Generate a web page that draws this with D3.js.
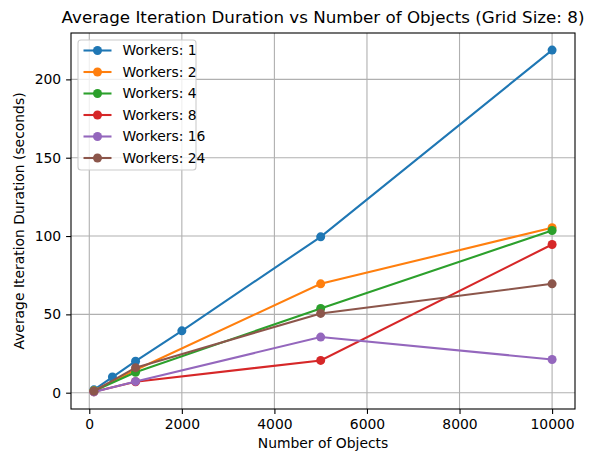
<!DOCTYPE html>
<html><head><meta charset="utf-8">
<script src="https://cdn.jsdelivr.net/npm/d3@7"></script>
<style>body{margin:0;background:#fff}svg{font-family:"DejaVu Sans",sans-serif}</style>
</head><body>
<script>
const objectsW1 = [100, 500, 1000, 2000, 5000, 10000];
const objectsOther = [100, 1000, 5000, 10000];
const workers1 = [1.8, 10.0, 20.1, 39.5, 99.5, 218.7];
const workers2 = [1.3, 14.5, 69.5, 105.3];
const workers4 = [1.1, 13.0, 53.8, 103.5];
const workers8 = [0.6, 7.0, 20.6, 94.6];
const workers16 = [0.5, 7.2, 35.5, 21.2];
const workers24 = [1.0, 16.0, 50.6, 69.5];
const seriesLabels = ["Workers: 1","Workers: 2","Workers: 4","Workers: 8","Workers: 16","Workers: 24"];
const colors = ["#1f77b4","#ff7f0e","#2ca02c","#d62728","#9467bd","#8c564b"];
const xTicks = [0,2000,4000,6000,8000,10000];
const yTicks = [0,50,100,150,200];

const series = [
  {label: seriesLabels[0], x: objectsW1, y: workers1},
  {label: seriesLabels[1], x: objectsOther, y: workers2},
  {label: seriesLabels[2], x: objectsOther, y: workers4},
  {label: seriesLabels[3], x: objectsOther, y: workers8},
  {label: seriesLabels[4], x: objectsOther, y: workers16},
  {label: seriesLabels[5], x: objectsOther, y: workers24},
].map((s,i)=>({...s, color: colors[i], pts: s.x.map((v,j)=>[v, s.y[j]])}));

const W = 597, H = 451;
const L = 71, R = 575, T = 33, B = 409;
const svg = d3.select("body").append("svg").attr("width", W).attr("height", H);

const allX = series.flatMap(s=>s.x), allY = series.flatMap(s=>s.y);
const [x0,x1] = d3.extent(allX), [y0,y1] = d3.extent(allY);
const mx = (x1-x0)*0.05, my = (y1-y0)*0.05;
const x = d3.scaleLinear().domain([x0-mx, x1+mx]).range([L, R]);
const y = d3.scaleLinear().domain([y0-my, y1+my]).range([B, T]);

// grid
const g = svg.append("g");
g.selectAll(".gx").data(xTicks).join("line")
  .attr("x1", d=>x(d)).attr("x2", d=>x(d)).attr("y1", T).attr("y2", B)
  .attr("stroke", "#b0b0b0").attr("stroke-width", 1.1);
g.selectAll(".gy").data(yTicks).join("line")
  .attr("y1", d=>y(d)).attr("y2", d=>y(d)).attr("x1", L).attr("x2", R)
  .attr("stroke", "#b0b0b0").attr("stroke-width", 1.1);

// axes
const xa = svg.append("g").attr("transform", `translate(0,${B})`)
  .call(d3.axisBottom(x).tickValues(xTicks).tickFormat(d3.format("d")).tickSize(4.9).tickPadding(4.9));
const ya = svg.append("g").attr("transform", `translate(${L},0)`)
  .call(d3.axisLeft(y).tickValues(yTicks).tickFormat(d3.format("d")).tickSize(4.9).tickPadding(4.9));
[xa, ya].forEach(a=>{
  a.select(".domain").remove();
  a.selectAll("line").attr("stroke", "#000").attr("stroke-width", 1.1);
  a.selectAll("text").attr("font-size", 13.9).attr("fill", "#000").attr("font-family", "DejaVu Sans");
});

// lines
const line = d3.line().x(d=>x(d[0])).y(d=>y(d[1]));
const sg = svg.append("g");
series.forEach(s=>{
  sg.append("path").datum(s.pts).attr("d", line).attr("fill","none")
    .attr("stroke", s.color).attr("stroke-width", 2.08);
  sg.selectAll(null).data(s.pts).join("circle")
    .attr("cx", d=>x(d[0])).attr("cy", d=>y(d[1])).attr("r", 4.5).attr("fill", s.color);
});

// frame
svg.append("rect").attr("x", L).attr("y", T).attr("width", R-L).attr("height", B-T)
  .attr("fill","none").attr("stroke","#000").attr("stroke-width",1.1);

// legend
const lg = svg.append("g");
lg.append("rect").attr("x", 78).attr("y", 40).attr("width", 118).attr("height", 130)
  .attr("rx", 3).attr("fill", "#fff").attr("fill-opacity", 0.8)
  .attr("stroke", "#cccccc").attr("stroke-width", 1.1);
series.forEach((s,i)=>{
  const yy = 50.5 + i*21.5;
  lg.append("line").attr("x1", 83.5).attr("x2", 111.5).attr("y1", yy).attr("y2", yy)
    .attr("stroke", s.color).attr("stroke-width", 2.08);
  lg.append("circle").attr("cx", 97.5).attr("cy", yy).attr("r", 4.5).attr("fill", s.color);
  lg.append("text").attr("x", 122.5).attr("y", yy).attr("dy", "0.35em")
    .attr("font-size", 13.9).attr("fill", "#000").text(s.label);
});

// titles
svg.append("text").attr("x", (L+R)/2).attr("y", 23).attr("text-anchor","middle")
  .attr("font-size", 16.7).attr("fill","#000")
  .text("Average Iteration Duration vs Number of Objects (Grid Size: 8)");
svg.append("text").attr("x", (L+R)/2).attr("y", 448).attr("text-anchor","middle")
  .attr("font-size", 13.9).attr("fill","#000").text("Number of Objects");
svg.append("text").attr("transform", `translate(24,${(T+B)/2}) rotate(-90)`).attr("text-anchor","middle")
  .attr("font-size", 13.9).attr("fill","#000").text("Average Iteration Duration (seconds)");
</script>
</body></html>
